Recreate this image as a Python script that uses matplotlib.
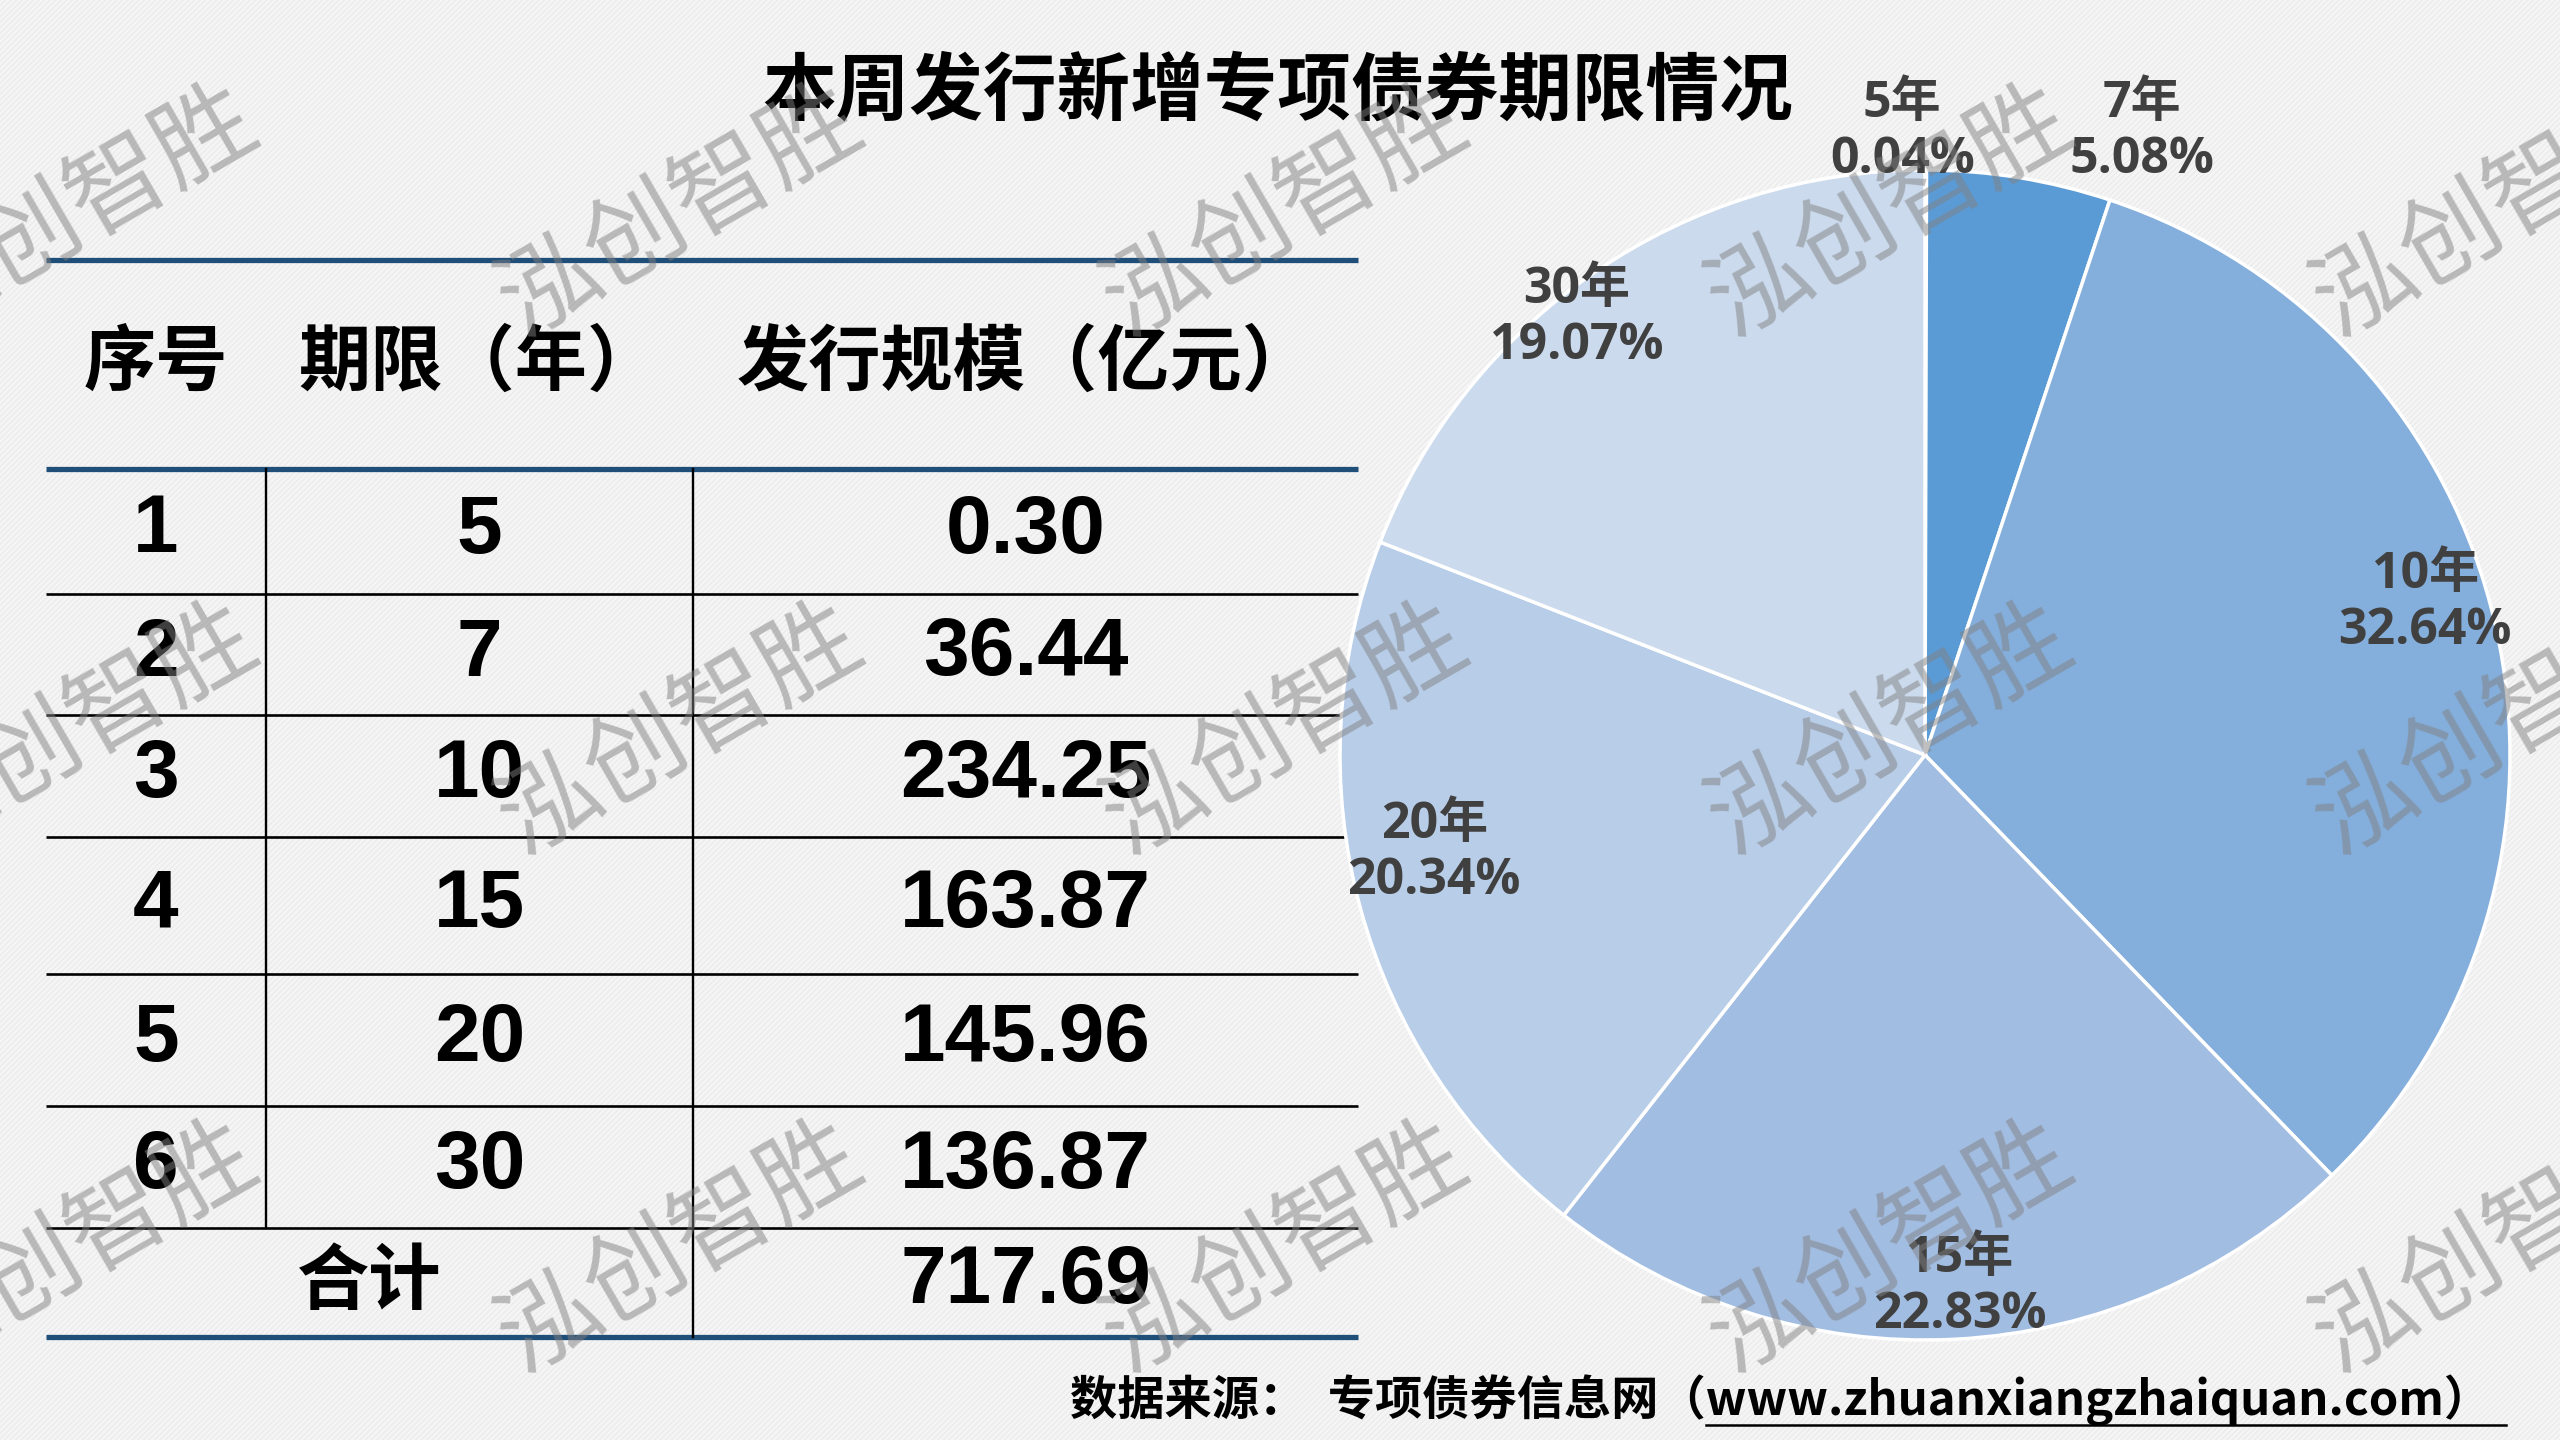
import matplotlib
matplotlib.use('Agg')
import matplotlib.pyplot as plt
from matplotlib.patches import Rectangle

plt.rcParams['font.family'] = ['Noto Sans CJK SC', 'DejaVu Sans']
plt.rcParams['hatch.linewidth'] = 1.0

# data
title = '本周发行新增专项债券期限情况'
header = ['序号', '期限（年）', '发行规模（亿元）']
row_no = ['1', '2', '3', '4', '5', '6']
terms = [5, 7, 10, 15, 20, 30]
amounts = [0.30, 36.44, 234.25, 163.87, 145.96, 136.87]
total_label = '合计'
source = '数据来源：  专项债券信息网（www.zhuanxiangzhaiquan.com）'
watermark = '泓创智胜'

pie_colors = ['#4A8BCB', '#5B9BD5', '#84AEDB', '#A2BDE2', '#B8CDE8', '#CBDAED']
total = sum(amounts)

W, H = 2560, 1440
fig = plt.figure(figsize=(25.6, 14.4), dpi=100)
fig.patch.set_facecolor('#F5F5F5')

# full-figure canvas in pixel coords (y down)
bg = fig.add_axes([0, 0, 1, 1])
bg.set_xlim(0, W)
bg.set_ylim(H, 0)
bg.axis('off')
bg.add_patch(Rectangle((0, 0), W, H, facecolor='none', hatch='//////',
                       edgecolor='#EBEBEB', lw=0))

# title
bg.text(1278, 92, title, ha='center', va='center', fontsize=53,
        fontweight='bold', color='black')

# table grid
xl, xr = 46, 1358
col_edges = [xl, 266, 693, xr]
row_edges = [469, 594, 715, 837, 974, 1106, 1228, 1337]
blue = '#1F4E79'
for y in (260, row_edges[0], row_edges[-1]):
    bg.plot([xl, xr], [y, y], color=blue, lw=3.8, solid_capstyle='butt')
for y in row_edges[1:-1]:
    bg.plot([xl, xr], [y, y], color='black', lw=1.9, solid_capstyle='butt')
bg.plot([col_edges[1]] * 2, [row_edges[0], row_edges[-2]], color='black', lw=1.7)
bg.plot([col_edges[2]] * 2, [row_edges[0], row_edges[-1]], color='black', lw=1.7)

col_c = [(col_edges[i] + col_edges[i + 1]) / 2 for i in range(3)]
for x, h in zip(col_c, header):
    bg.text(x, 364, h, ha='center', va='center', fontsize=52,
            fontweight='bold', color='black')

num_font = ['Liberation Sans', 'Noto Sans CJK SC']
for i, (n, t, a) in enumerate(zip(row_no, terms, amounts)):
    yc = (row_edges[i] + row_edges[i + 1]) / 2
    for x, s in zip(col_c, [n, str(t), f'{a:.2f}']):
        bg.text(x, yc, s, ha='center', va='center', fontsize=59,
                fontweight='bold', color='black', family=num_font)
yc = (row_edges[-2] + row_edges[-1]) / 2
bg.text((col_edges[0] + col_edges[2]) / 2, yc, total_label, ha='center',
        va='center', fontsize=52, fontweight='bold', color='black')
bg.text(col_c[2], yc, f'{total:.2f}', ha='center', va='center', fontsize=59,
        fontweight='bold', color='black', family=num_font)

# source
bg.text(1070, 1400, source, ha='left', va='center', fontsize=34,
        fontweight='bold', color='black')
bg.plot([1706, 2506], [1425, 1425], color='black', lw=1.8)

# pie
R = 585
cx, cy = 1925, 755
pax = fig.add_axes([(cx - 600) / W, (H - cy - 600) / H, 1200 / W, 1200 / H])
pax.pie(amounts, colors=pie_colors, startangle=90, counterclock=False,
        wedgeprops=dict(edgecolor='white', linewidth=2.5))
pax.set_xlim(-600 / R, 600 / R)
pax.set_ylim(-600 / R, 600 / R)
pax.set_aspect('equal')
pax.axis('off')

label_pos = [(-0.039, 1.065), (0.371, 1.065), (0.855, 0.26),
             (0.06, -0.909), (-0.839, -0.168), (-0.595, 0.747)]
for (x, y), t, a in zip(label_pos, terms, amounts):
    pax.text(x, y, f'{t}年\n{a / total * 100:.2f}%', ha='center', va='center',
             fontsize=36, fontweight='bold', color='#404040',
             family=['Open Sans', 'Noto Sans CJK SC'], linespacing=1.15)

# watermark
for y in (212, 730, 1248):
    for x in (75, 680, 1285, 1890, 2495):
        fig.text(x / W, 1 - y / H, watermark, rotation=30, fontsize=72,
                 color='#808080', alpha=0.5, ha='center', va='center',
                 rotation_mode='anchor', zorder=10)

fig.savefig('out.png', dpi=100, facecolor=fig.get_facecolor())
